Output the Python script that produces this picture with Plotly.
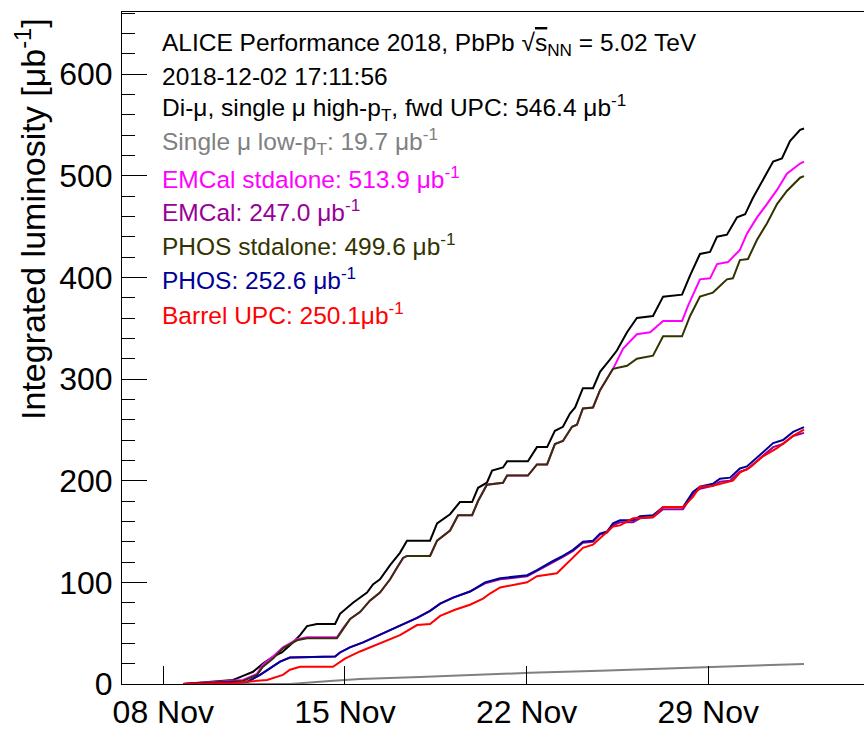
import pandas as pd
import plotly.graph_objects as go

# ---------------- data (days after 2018-11-08 00:00, integrated lumi in ub^-1) ----------------
base_date = "2018-11-08"

dimu_days = [0.76,1.92,2.69,3.07,3.46,3.84,4.23,4.57,4.88,5.27,5.54,5.92,6.62,6.81,7.31,7.85,8.08,8.35,8.74,9.12,
             9.39,10.28,10.55,11.05,11.43,11.90,12.13,12.47,12.67,13.09,13.25,14.05,14.40,14.79,15.09,15.40,15.67,15.87,16.17,16.56,
             16.83,17.21,17.48,17.87,18.25,18.87,19.26,19.99,20.30,20.68,21.07,21.34,21.72,22.11,22.42,22.72,23.11,23.50,23.84,24.15,
             24.54,24.69]
dimu_vals = [0,2,4,8,12,20,27,31,38,48,57,59,59,69,80,90,98,103,117,129,
             141,141,158,167,179,179,193,198,210,213,219,219,233,233,249,253,266,272,291,291,
             307,319,328,346,360,362,381,383,402,423,425,440,442,459,462,478,496,514,517,534,
             545,546.4]

lowpt_days = [0.76,4.88,6.42,7.58,9.89,11.82,14.13,16.83,19.14,21.45,24.69]
lowpt_vals = [0,0,3,5,7,9,11,13,15,17,19.7]

emcal_sa_days = [0.76,3.07,3.61,3.84,4.23,4.61,4.88,5.15,5.54,6.69,6.93,7.20,7.59,7.96,8.35,8.74,9.00,9.24,9.39,10.28,
                 10.55,11.05,11.36,11.90,12.13,12.47,13.09,13.25,14.05,14.40,14.79,15.09,15.40,15.75,15.94,16.17,16.56,16.83,17.33,
                 17.72,18.25,18.76,19.26,19.99,20.22,20.68,21.07,21.34,21.76,22.22,22.49,22.88,23.26,23.65,24.03,24.54,24.69]
emcal_sa_vals = [0,4,10,19,27,36,40,44,46,46,55,64,71,82,90,103,114,124,126,126,
                 141,151,166,166,180,196,198,205,205,216,216,236,239,253,255,271,272,289,310,
                 330,344,346,357,357,372,398,399,413,415,427,443,459,472,486,502,512,513.9]

phos_sa_days = [0.76,3.07,3.61,3.84,4.23,4.61,4.88,5.15,5.54,6.69,6.93,7.20,7.59,7.96,8.35,8.74,9.00,9.24,9.39,10.28,
                10.55,11.05,11.36,11.90,12.13,12.47,13.09,13.25,14.05,14.40,14.79,15.09,15.40,15.75,15.94,16.17,16.56,16.83,17.33,
                17.87,18.25,18.87,19.26,19.99,20.30,20.68,21.18,21.72,21.95,22.22,22.53,22.88,23.26,23.65,24.03,24.54,24.69]
phos_sa_vals = [0,3,9,17,25,35,39,43,45,45,54,64,71,82,90,103,114,124,126,126,
                141,151,166,166,180,196,198,205,205,216,216,236,239,253,255,271,272,289,310,
                313,320,323,342,342,362,381,385,398,399,417,418,437,453,472,485,498,499.6]

phos_days = [0.76,3.23,3.73,4.11,4.50,4.88,6.62,6.81,7.19,7.70,8.47,9.12,9.78,10.28,10.67,11.17,11.82,12.40,12.98,14.02,
             14.40,15.02,15.40,15.79,16.17,16.56,16.83,17.10,17.33,17.60,18.10,18.37,18.87,19.26,20.03,20.41,20.68,21.18,21.45,21.84,
             22.22,22.49,22.72,23.11,23.50,23.88,24.27,24.69]
phos_vals = [0,2,9,15,22,26,27,31,36,41,50,58,65,72,79,85,91,100,104,107,
             112,121,126,132,140,141,148,150,158,161,161,165,166,174,174,189,194,197,202,203,
             212,214,219,228,237,240,248,252.6]

emcal_days = phos_days
emcal_vals = [0,2,9,15,22,26,27,31,36,41,50,58,65,72,79,85,91,99,103,106,
              111,120,125,131,139,140,147,149,156,159,159,163,164,172,172,187,192,195,199,200,
              209,211,216,225,233,236,244,247.0]

upc_days = [0.76,2.69,4.00,4.61,4.88,5.27,6.54,7.00,7.58,8.47,9.12,9.78,10.28,10.67,11.24,11.82,12.32,12.59,12.98,14.02,
            14.40,15.17,15.67,16.17,16.56,16.94,17.33,17.60,18.10,18.87,19.26,20.03,20.41,20.68,21.18,21.95,22.22,22.61,23.11,23.65,
            24.27,24.69]
upc_vals = [0,1,4,9,14,17,17,25,32,41,48,58,59,67,73,78,84,89,95,100,
            106,109,122,134,137,146,155,156,163,164,174,174,184,194,195,200,208,213,224,232,
            244,250.1]

x_tick_dates = ["2018-11-08", "2018-11-15", "2018-11-22", "2018-11-29"]
x_tick_text = ["08 Nov", "15 Nov", "22 Nov", "29 Nov"]
y_tick_vals = [0, 100, 200, 300, 400, 500, 600]

series = [
    ("Di-μ, single μ high-p<sub>T</sub>, fwd UPC", dimu_days, dimu_vals, "#000000", "#000000"),
    ("Single μ low-p<sub>T</sub>", lowpt_days, lowpt_vals, "#808080", "#808080"),
    ("EMCal stdalone", emcal_sa_days, emcal_sa_vals, "#ff00ff", "#ff00ff"),
    ("EMCal", emcal_days, emcal_vals, "#990099", "#990099"),
    ("PHOS stdalone", phos_sa_days, phos_sa_vals, "#333300", "#333300"),
    ("PHOS", phos_days, phos_vals, "#000099", "#000099"),
    ("Barrel UPC", upc_days, upc_vals, "#ff0000", "#ff0000"),
]

t0 = pd.Timestamp(base_date)
FONT = "Liberation Sans, Arial, Helvetica, sans-serif"

fig = go.Figure()
for name, d, v, lc, tc in series:
    xs = [t0 + pd.Timedelta(days=float(x)) for x in d]
    fig.add_trace(go.Scatter(x=xs, y=v, mode="lines", name=name,
                             line=dict(color=lc, width=2), showlegend=False,
                             hoverinfo="skip"))

W, H = 864, 730
ml, mr, mt, mb = 122, 0, 12, 38
pw, ph = W - ml - mr, H - mt - mb

def px_x(p):
    return (p - ml) / pw

def px_y(p):
    return (H - mb - p) / ph

# legend-like text block
lines = [
    ("ALICE Performance 2018, PbPb √<span style='text-decoration:overline'>s</span><sub>NN</sub> = 5.02 TeV", "#000000", 45),
    ("2018-12-02 17:11:56", "#000000", 77),
]
for (name, d, v, lc, tc), yc in zip(series, [109, 143, 179, 213, 247, 282, 317]):
    sep = "" if name == "Barrel UPC" else " "
    lines.append((f"{name}: {v[-1]:.1f}{sep}μb<sup>-1</sup>", tc, yc))

annotations = []
for txt, col, yc in lines:
    annotations.append(dict(text=txt, x=px_x(160), y=px_y(yc), xref="paper", yref="paper",
                            xanchor="left", yanchor="middle", showarrow=False,
                            font=dict(family=FONT, size=24.5, color=col)))

annotations.append(dict(text="Integrated luminosity [μb<sup>-1</sup>]", textangle=-90,
                        x=px_x(31), y=px_y(16), xref="paper", yref="paper",
                        xanchor="center", yanchor="top", showarrow=False,
                        font=dict(family=FONT, size=34, color="#000000")))

x_left = t0 + pd.Timedelta(days=(ml - 163.3) / 25.95)
x_right = t0 + pd.Timedelta(days=(W - 163.3) / 25.95)

fig.update_layout(
    width=W, height=H,
    margin=dict(l=ml, r=mr, t=mt, b=mb),
    paper_bgcolor="white", plot_bgcolor="white",
    font=dict(family=FONT, color="#000000"),
    annotations=annotations,
    xaxis=dict(type="date", range=[x_left, x_right],
               tickvals=[pd.Timestamp(d) for d in x_tick_dates], ticktext=x_tick_text,
               ticks="inside", ticklen=18, tickcolor="#000000", tickwidth=1,
               showline=True, linecolor="#000000", linewidth=1, mirror=True,
               showgrid=False, zeroline=False,
               tickfont=dict(family=FONT, size=32, color="#000000")),
    yaxis=dict(range=[0, 661], tickvals=y_tick_vals,
               ticks="inside", ticklen=25, tickcolor="#000000", tickwidth=1,
               minor=dict(dtick=20, ticks="inside", ticklen=13, tickcolor="#000000", tickwidth=1, showgrid=False),
               showline=True, linecolor="#000000", linewidth=1, mirror=False,
               showgrid=False, zeroline=False, ticklabelstandoff=2,
               tickfont=dict(family=FONT, size=32, color="#000000")),
)

fig.write_html("out.html")
